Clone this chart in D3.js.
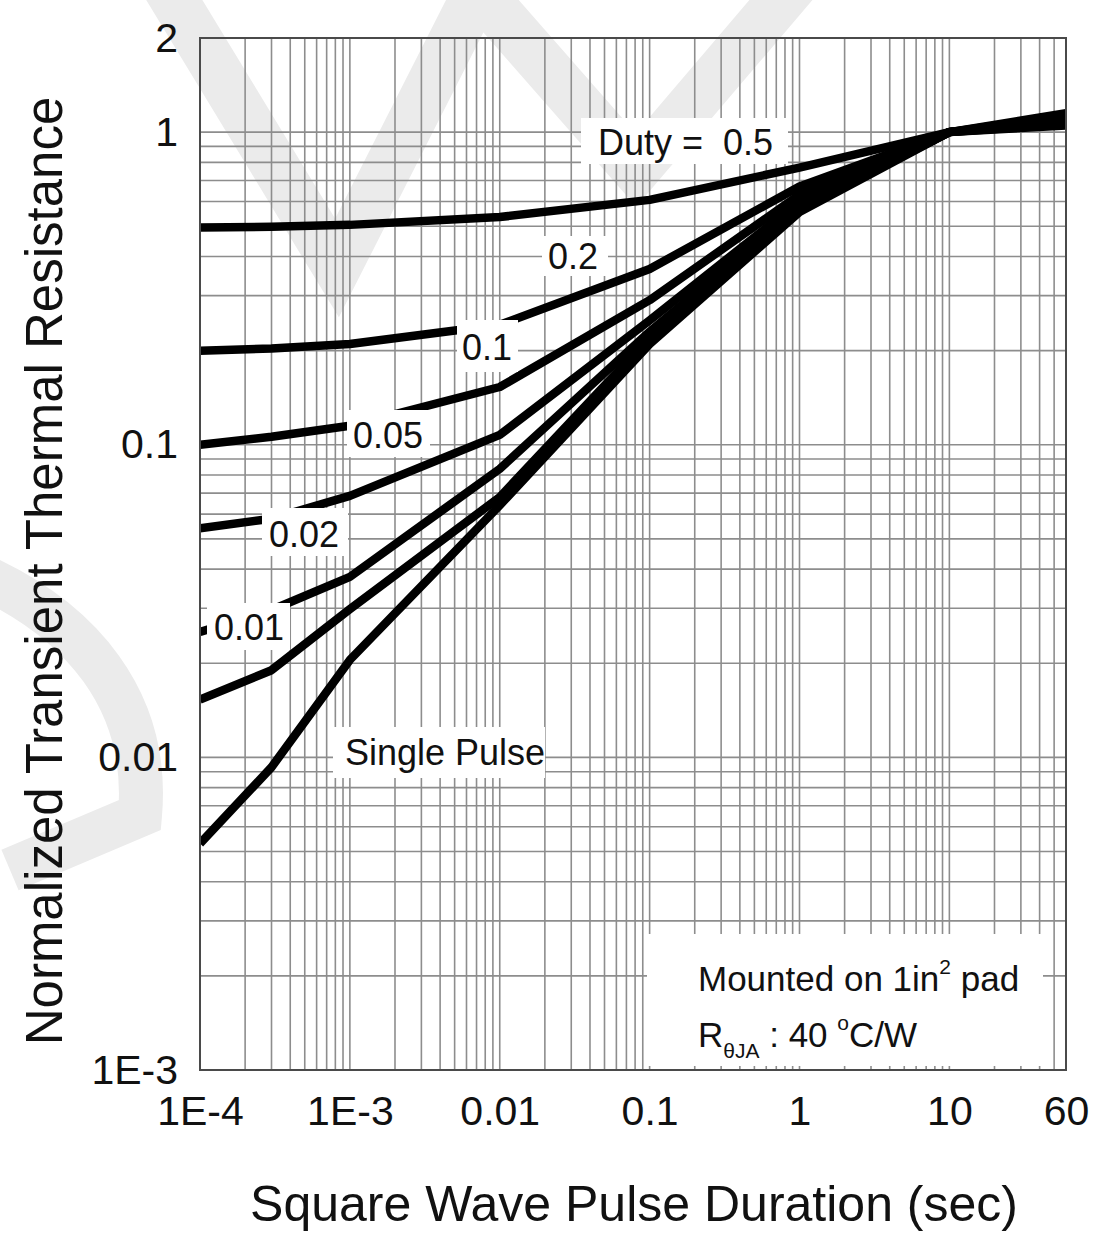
<!DOCTYPE html>
<html><head><meta charset="utf-8">
<script src="https://cdn.jsdelivr.net/npm/d3@7"></script>
<style>
html,body{margin:0;padding:0;background:#fff;}
svg{display:block;font-family:"Liberation Sans",Arial,Helvetica,sans-serif;}
</style>
</head><body>
<svg id="chart" width="1096" height="1235"></svg>
<script>
// ---------------- data ----------------
const pulseTimes = [1e-4, 3e-4, 1e-3, 1e-2, 1e-1, 1, 10, 60];
const duty05  = [0.495, 0.498, 0.505, 0.535, 0.607, 0.77, 1.0, 1.15];
const duty02  = [0.200, 0.203, 0.210, 0.242, 0.365, 0.67, 1.0, 1.13];
const duty01  = [0.100, 0.106, 0.115, 0.153, 0.290, 0.63, 1.0, 1.11];
const duty005 = [0.054, 0.058, 0.0686, 0.1075, 0.250, 0.60, 1.0, 1.09];
const duty002 = [0.0252, 0.0296, 0.0378, 0.0837, 0.230, 0.58, 1.0, 1.07];
const duty001 = [0.0153, 0.0190, 0.0298, 0.068, 0.220, 0.57, 1.0, 1.06];
const singlePulse = [0.0053, 0.0093, 0.0205, 0.064, 0.210, 0.555, 1.0, 1.05];
const seriesList = [duty05, duty02, duty01, duty005, duty002, duty001, singlePulse];

const xTickValues = [1e-4, 1e-3, 0.01, 0.1, 1, 10, 60];
const xTickLabels = ["1E-4", "1E-3", "0.01", "0.1", "1", "10", "60"];
const yTickValues = [1e-3, 0.01, 0.1, 1, 2];
const yTickLabels = ["1E-3", "0.01", "0.1", "1", "2"];

// ---------------- layout ----------------
const L = 200, R = 1066, T = 38, B = 1070;
const svg = d3.select("#chart");
const x = d3.scaleLog().domain([1e-4, 60]).range([L, R]);
const y = d3.scaleLog().domain([1e-3, 2]).range([B, T]);

// watermark (light gray logo strokes behind everything)
const wm = svg.append("g").attr("fill", "none").attr("stroke", "#ebebeb")
  .attr("stroke-width", 48).attr("stroke-linejoin", "miter").attr("stroke-miterlimit", 10);
wm.append("path").attr("d", "M150,-40 L337,268 L478,-10 L636,170 L815,-40");
wm.append("path").attr("d", "M-20,575 C80,620 150,700 140,815 L10,870").attr("stroke-width", 44);

// gridlines
const vGrid = [];
for (let e = -4; e <= 1; e++) for (let k = 1; k <= 9; k++) {
  const v = k * Math.pow(10, e);
  if (v > 1e-4 * 1.0001 && v < 60 * 0.9999) vGrid.push(v);
}
const hGrid = [];
for (let e = -3; e <= 0; e++) for (let k = 1; k <= 9; k++) {
  const v = k * Math.pow(10, e);
  if (v > 1e-3 * 1.0001 && v <= 1.0001) hGrid.push(v);
}
const grid = svg.append("g").attr("stroke", "#8d8d8d").attr("stroke-width", 1.6);
grid.selectAll("line.v").data(vGrid).join("line")
  .attr("x1", d => x(d)).attr("x2", d => x(d)).attr("y1", T).attr("y2", B);
grid.selectAll("line.h").data(hGrid).join("line")
  .attr("x1", L).attr("x2", R).attr("y1", d => y(d)).attr("y2", d => y(d));

// curves
svg.append("clipPath").attr("id", "plotclip").append("rect")
  .attr("x", L).attr("y", T).attr("width", R - L).attr("height", B - T);
const line = d3.line().x((d, i) => x(pulseTimes[i])).y(d => y(d));
svg.append("g").attr("clip-path", "url(#plotclip)")
  .selectAll("path").data(seriesList).join("path")
  .attr("d", d => line(d))
  .attr("fill", "none").attr("stroke", "#000").attr("stroke-width", 8.5)
  .attr("stroke-linejoin", "round");

// label boxes + labels
const labelFont = 36;
const labels = [
  {t: "Duty =  0.5", bx: 581, by: 118, bw: 207, bh: 46, tx: 598, ty: 155},
  {t: "0.2", bx: 542, by: 236, bw: 66, bh: 40, tx: 548, ty: 269},
  {t: "0.1", bx: 457, by: 320, bw: 61, bh: 52, tx: 462, ty: 360},
  {t: "0.05", bx: 347, by: 410, bw: 83, bh: 47, tx: 353, ty: 448},
  {t: "0.02", bx: 262, by: 508, bw: 86, bh: 48, tx: 269, ty: 547},
  {t: "0.01", bx: 207, by: 603, bw: 83, bh: 47, tx: 214, ty: 640},
  {t: "Single Pulse", bx: 333, by: 727, bw: 212, bh: 51, tx: 345, ty: 765}
];
const lg = svg.append("g");
lg.selectAll("rect").data(labels).join("rect")
  .attr("x", d => d.bx).attr("y", d => d.by).attr("width", d => d.bw).attr("height", d => d.bh)
  .attr("fill", "#fff");
lg.selectAll("text").data(labels).join("text")
  .attr("x", d => d.tx).attr("y", d => d.ty)
  .attr("font-size", labelFont).attr("fill", "#111")
  .style("white-space", "pre")
  .text(d => d.t);

// mounting note box
svg.append("rect").attr("x", 647).attr("y", 934).attr("width", 396).attr("height", 132).attr("fill", "#fff");
const n1 = svg.append("text").attr("x", 698).attr("y", 991).attr("font-size", 35).attr("fill", "#111");
n1.append("tspan").text("Mounted on 1in");
n1.append("tspan").attr("font-size", 21).attr("dy", -17).text("2");
n1.append("tspan").attr("dy", 17).text(" pad");
const n2 = svg.append("text").attr("x", 698).attr("y", 1047).attr("font-size", 35).attr("fill", "#111");
n2.append("tspan").text("R");
n2.append("tspan").attr("font-size", 21).attr("dy", 11).text("θJA");
n2.append("tspan").attr("dy", -11).text(" : 40 ");
n2.append("tspan").attr("font-size", 21).attr("dy", -17).text("o");
n2.append("tspan").attr("dy", 17).text("C/W");

// border
svg.append("rect").attr("x", L).attr("y", T).attr("width", R - L).attr("height", B - T)
  .attr("fill", "none").attr("stroke", "#4a4a4a").attr("stroke-width", 2);

// axes
const xAxis = d3.axisBottom(x).tickValues(xTickValues)
  .tickFormat((d, i) => xTickLabels[i]).tickSize(0).tickPadding(26);
const gx = svg.append("g").attr("transform", `translate(0,${B})`).call(xAxis);
gx.select(".domain").remove();
gx.selectAll("text").attr("font-size", 41).attr("fill", "#111")
  .attr("font-family", "'Liberation Sans', Arial, sans-serif");

const yAxis = d3.axisLeft(y).tickValues(yTickValues)
  .tickFormat((d, i) => yTickLabels[i]).tickSize(0).tickPadding(22);
const gy = svg.append("g").attr("transform", `translate(${L},0)`).call(yAxis);
gy.select(".domain").remove();
gy.selectAll("text").attr("font-size", 41).attr("fill", "#111")
  .attr("font-family", "'Liberation Sans', Arial, sans-serif");

// titles
svg.append("text").attr("x", 634).attr("y", 1221).attr("text-anchor", "middle")
  .attr("font-size", 50).attr("fill", "#111").text("Square Wave Pulse Duration (sec)");
svg.append("text").attr("transform", "translate(62,571) rotate(-90)").attr("text-anchor", "middle")
  .attr("font-size", 51).attr("fill", "#111").text("Normalized Transient Thermal Resistance");
</script>
</body></html>
